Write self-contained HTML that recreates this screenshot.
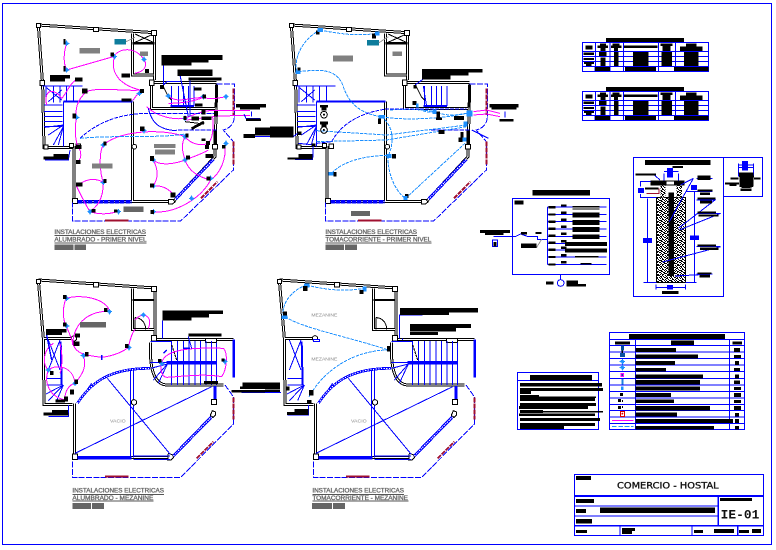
<!DOCTYPE html>
<html><head><meta charset="utf-8"><title>IE-01</title>
<style>html,body{margin:0;padding:0;background:#fff}svg{display:block}text{font-family:"Liberation Sans",sans-serif}.lb{fill:#6a6a6a;stroke:#6a6a6a;stroke-width:1}</style></head>
<body>
<svg xmlns="http://www.w3.org/2000/svg" width="776" height="550" viewBox="0 0 776 550" shape-rendering="crispEdges">
<defs>
<pattern id="conc" width="30" height="30" patternUnits="userSpaceOnUse">
<rect width="30" height="30" fill="#fff"/>
<path fill="#000" d="M0,0h6v3h-6zM12,0h3v3h-3zM18,0h3v3h-3zM27,0h3v3h-3zM3,3h6v3h-6zM15,3h3v3h-3zM21,3h6v3h-6zM0,6h3v3h-3zM9,6h6v3h-6zM21,6h3v3h-3zM27,6h3v3h-3zM3,9h3v3h-3zM12,9h9v3h-9zM0,12h3v3h-3zM6,12h6v3h-6zM21,12h6v3h-6zM6,15h3v3h-3zM15,15h3v3h-3zM21,15h9v3h-9zM0,18h6v3h-6zM9,18h3v3h-3zM18,18h3v3h-3zM3,21h3v3h-3zM12,21h6v3h-6zM21,21h3v3h-3zM27,21h3v3h-3zM0,24h3v3h-3zM6,24h3v3h-3zM18,24h6v3h-6zM6,27h6v3h-6zM15,27h3v3h-3zM24,27h3v3h-3z"/>
</pattern>
<g id="mk"><circle r="4" fill="none" stroke="#1e90ff" stroke-width="3"/><path d="M-8,0H8M0,-8V8" stroke="#1e90ff" stroke-width="3"/></g>
<g id="wall1" fill="none">
 <g stroke="#000" stroke-width="9">
  <path d="M55,45L403,68V210"/><path d="M55,45L68,225L72,412H160"/><path d="M162,408V575H460L585,440L590,225"/>
  <path d="M395,218H590"/><path d="M395,215V295H585"/><path d="M337,70V195H400"/><path d="M337,275V575"/>
 </g>
 <g stroke="#fff" stroke-width="3">
  <path d="M55,45L403,68V210"/><path d="M55,45L68,225L72,412H160"/><path d="M162,408V575H460L585,440L590,225"/>
  <path d="M395,218H590"/><path d="M395,215V295H585"/><path d="M337,70V195H400"/><path d="M337,275V575"/>
 </g>
 <path d="M337,100H403" stroke="#000" stroke-width="8"/>
 <path d="M345,72L400,97M400,72L345,97" stroke="#000" stroke-width="3"/>
 <g fill="#fff" stroke="#000" stroke-width="3"><rect x="50" y="41" width="12" height="12"/><rect x="220" y="52" width="16" height="12"/><rect x="395" y="62" width="14" height="14"/><rect x="60" y="212" width="14" height="14"/><rect x="388" y="210" width="14" height="16"/><rect x="72" y="405" width="12" height="12"/><rect x="157" y="565" width="15" height="15"/><circle cx="343" cy="410" r="7"/><rect x="148" y="400" width="12" height="12"/><rect x="168" y="402" width="14" height="14"/><rect x="578" y="403" width="14" height="14"/><path d="M445,568h14l6,8l-8,6h-12z"/></g>
 <rect x="586" y="222" width="6" height="70" fill="#000"/><rect x="581" y="362" width="8" height="40" fill="#000"/>
 <g stroke="#00f" stroke-width="3">
  <path d="M68,228H188M130,275V410M72,285H128"/>
  <path d="M78,228V278M100,228V278M120,228V278M140,228V275M160,228V275" />
  <path d="M72,304H128M72,320H128M72,335H128M72,350H128M130,345L85,375M130,350L100,405M130,345L75,352M130,350L115,405"/>
  <path d="M78,232L125,270M125,240L85,275"/>
  <path d="M455,228V288M475,228V288M490,228V288M506,228V288M522,228V288"/>
  <path d="M430,230L445,260L455,270" stroke="#000"/>
 </g>
 <path d="M130,275H337" stroke="#00f" stroke-width="6"/><path d="M452,288H522" stroke="#00f" stroke-width="6"/>
 <path d="M172,575H335" stroke="#00f" stroke-width="11" stroke-dasharray="14 2"/>
 <path d="M466,568L580,448" stroke="#00f" stroke-width="9"/><path d="M466,568L580,448" stroke="#fff" stroke-width="3" stroke-dasharray="4 3"/>
 <path d="M590,222H643V320C643,340 630,355 610,360L640,395V480L482,633H157V577" stroke="#00f" stroke-width="3" stroke-dasharray="18 4"/>
 <path d="M590,360H470" stroke="#00f" stroke-width="3" stroke-dasharray="14 3"/>
 <g stroke="#a01030" stroke-width="6"><path d="M640,236V315" stroke-dasharray="15 3"/><path d="M640,395V465" stroke-dasharray="15 3"/><path d="M543,565L592,515" stroke-dasharray="14 3"/><path d="M255,632H326" stroke-width="6"/></g>
</g>
<g id="wall2" fill="none">
 <g stroke="#000" stroke-width="9">
  <path d="M55,30L405,54V205"/><path d="M55,30L70,205L72,403H157"/><path d="M163,400V562H450"/><path d="M337,55V178H402"/><path d="M70,205H165"/><path d="M402,208H640"/>
  <path d="M392,218C388,290 400,343 440,345H610"/>
 </g>
 <g stroke="#fff" stroke-width="3">
  <path d="M55,30L405,54V205"/><path d="M55,30L70,205L72,403H157"/><path d="M163,400V562H450"/><path d="M337,55V178H402"/><path d="M70,205H165"/><path d="M402,208H640"/>
  <path d="M392,218C388,290 400,343 440,345H610"/>
 </g>
 <path d="M337,90H402" stroke="#000" stroke-width="7"/>
 <path d="M345,143C365,143 377,160 377,178M345,143V178" stroke="#000" stroke-width="3"/>
 <g fill="#fff" stroke="#000" stroke-width="3"><rect x="50" y="28" width="12" height="12"/><rect x="220" y="38" width="16" height="13"/><rect x="395" y="50" width="14" height="14"/><rect x="395" y="197" width="14" height="16"/><rect x="557" y="205" width="32" height="12"/><circle cx="162" cy="205" r="8"/><rect x="157" y="552" width="16" height="16"/><path d="M445,550l12,4l4,8l-8,8h-10z"/></g>
 <g stroke="#00f" stroke-width="3">
  <path d="M455,213V345M472,213V345M490,213V345M507,213V345M525,213V345M542,213V345M558,213V345M575,213V345M590,217V345"/>
  <path d="M85,210L120,300M120,210L85,300M80,325H125M80,345H125M130,345L85,392M130,345L78,372M130,345L110,392"/>
  <path d="M442,282L400,330M442,282L415,340M442,282L392,295"/>
  <path d="M165,550L575,350M262,325L450,552M332,295V562M341,295V562M172,400L215,340"/>
  <path d="M340,558H450M340,568H450"/>
  <path d="M392,278H440M392,215H455"/>
  <path d="M455,225L470,270" stroke="#000" stroke-dasharray="8 2"/>
 </g>
 <path d="M440,278H590" stroke="#00f" stroke-width="11"/>
 <path d="M122,215L125,345" stroke="#00f" stroke-width="6"/>
 <path d="M641,208V322" stroke="#00f" stroke-width="7"/><path d="M172,400C215,335 270,295 390,295" stroke="#00f" stroke-width="8"/>
 <path d="M172,400C215,335 270,295 390,295" stroke="#fff" stroke-width="3" stroke-dasharray="4 4"/>
 <path d="M172,563H335" stroke="#00f" stroke-width="11"/>
 <path d="M585,348V390" stroke="#00f" stroke-width="9"/>
 <path d="M460,558L578,437" stroke="#00f" stroke-width="9"/><path d="M460,558L578,437" stroke="#fff" stroke-width="3" stroke-dasharray="4 3"/>
 <g fill="#fff" stroke="#000" stroke-width="3"><circle cx="342" cy="397" r="8"/><rect x="574" y="388" width="16" height="16"/><path d="M577,422l10,4v8l-8,8l-8,-6z"/></g>
 <path d="M615,345L640,380V462L482,622H157V572" stroke="#00f" stroke-width="3" stroke-dasharray="18 4"/>
 <g stroke="#a01030" stroke-width="6"><path d="M640,382V448" stroke-dasharray="15 3"/><path d="M530,565L580,515" stroke-dasharray="14 3"/><path d="M255,619H326" stroke-width="6"/></g>
</g>
</defs>

<rect width="776" height="550" fill="#fff"/>
<path d="M2.5,545V3.5H771.5V544.5H2.5" fill="none" stroke="#00f" stroke-width="1"/>

<!-- PLAN A -->
<g transform="translate(20,10) scale(.33333)">
<use href="#wall1"/>
<g fill="none" stroke="#ff00ff" stroke-width="3">
 <path d="M140,100C130,130 130,160 140,180L280,140C300,112 345,110 372,148C385,170 370,185 345,190"/>
 <path d="M283,140C270,190 300,225 360,240C330,245 230,230 200,245C170,270 165,300 170,320C160,370 170,410 180,420C186,440 180,450 170,458"/>
 <path d="M358,245L338,272"/>
 <path d="M250,405C300,360 430,355 495,380M250,405C235,430 240,490 250,517C220,500 190,510 170,530C185,560 200,590 210,605C230,590 250,570 250,517M210,605C240,615 270,612 290,605"/>
 <path d="M400,605C460,612 540,570 572,510C600,490 620,450 615,400"/>
 <path d="M400,450C420,470 470,460 495,450C520,440 550,430 565,420M400,450C420,490 410,510 400,528C430,525 450,540 460,555M495,450C505,480 530,500 572,510M495,380C480,410 490,430 495,450M495,380C510,400 540,410 565,400C582,380 580,340 578,320"/>
 <path d="M380,290C410,320 460,330 495,325C530,310 560,298 595,302L690,302M500,330L595,318L690,316"/>
 <path d="M445,258C470,280 500,265 550,262C575,270 590,265 618,260M445,280C480,280 520,275 550,262"/>
 <path d="M80,285C70,240 100,230 125,265C140,250 150,220 165,212"/>
</g>
<g fill="none" stroke="#00f" stroke-width="3">
 <path d="M385,295C395,340 420,360 470,362"/><path d="M180,385C240,330 310,310 390,310" stroke-dasharray="12 3"/><path d="M390,310H590" stroke-dasharray="14 3"/>
 <path d="M150,420L145,450H75"/><path d="M430,165V225M430,225L440,215H480M480,195L505,320M510,210V320"/><path d="M678,325H720M695,305V320M672,312L680,330"/>
 <path d="M700,380H780M648,290H700"/>
</g>
<path d="M180,385C280,375 420,385 495,372" fill="none" stroke="#1e90ff" stroke-width="3" stroke-dasharray="12 3"/>
<path d="M495,335L552,342M515,358L552,335" stroke="#000" stroke-width="3" fill="none"/>
<path d="M515,356L552,336" stroke="#000" stroke-width="8"/>
<g>
<use href="#mk" x="140" y="100"/><use href="#mk" x="140" y="180"/><use href="#mk" x="283" y="140"/><use href="#mk" x="372" y="148"/><use href="#mk" x="170" y="322"/><use href="#mk" x="358" y="250"/><use href="#mk" x="372" y="362"/><use href="#mk" x="250" y="405"/><use href="#mk" x="495" y="380"/><use href="#mk" x="495" y="325"/><use href="#mk" x="400" y="450"/><use href="#mk" x="495" y="450"/><use href="#mk" x="400" y="528"/><use href="#mk" x="250" y="517"/><use href="#mk" x="210" y="605"/><use href="#mk" x="295" y="605"/><use href="#mk" x="400" y="605"/><use href="#mk" x="515" y="565"/><use href="#mk" x="572" y="505"/><use href="#mk" x="618" y="400"/><use href="#mk" x="550" y="260"/><use href="#mk" x="618" y="260"/><use href="#mk" x="445" y="258"/>
</g>
<g fill="#000">
<rect x="130" y="87" width="6" height="16"/><rect x="130" y="168" width="6" height="16"/><rect x="272" y="128" width="10" height="12"/><rect x="305" y="190" width="25" height="12"/><rect x="375" y="177" width="12" height="12"/><rect x="90" y="195" width="60" height="10"/><rect x="90" y="205" width="45" height="10"/><rect x="165" y="202" width="22" height="13"/><rect x="186" y="235" width="16" height="15"/><rect x="360" y="237" width="12" height="12"/><rect x="305" y="265" width="30" height="10"/><rect x="158" y="310" width="10" height="15"/><rect x="170" y="405" width="15" height="12"/><rect x="360" y="350" width="13" height="13"/><rect x="250" y="395" width="10" height="12"/><rect x="390" y="438" width="12" height="15"/><rect x="498" y="437" width="12" height="12"/><rect x="390" y="520" width="12" height="12"/><rect x="452" y="548" width="14" height="14"/><rect x="250" y="507" width="10" height="12"/><rect x="168" y="518" width="20" height="12"/><rect x="168" y="450" width="14" height="12"/><rect x="215" y="597" width="12" height="10"/><rect x="282" y="598" width="10" height="10"/><rect x="392" y="600" width="10" height="12"/><rect x="560" y="500" width="12" height="12"/><rect x="606" y="405" width="10" height="10"/><rect x="557" y="432" width="22" height="12"/><rect x="555" y="405" width="12" height="12"/><rect x="558" y="393" width="12" height="12"/><rect x="545" y="385" width="12" height="8"/><rect x="490" y="318" width="10" height="12"/><rect x="515" y="320" width="22" height="12"/><rect x="545" y="320" width="30" height="10"/><rect x="545" y="298" width="12" height="15"/><rect x="582" y="303" width="12" height="16"/><rect x="496" y="370" width="10" height="12"/><rect x="522" y="232" width="22" height="10"/><rect x="525" y="280" width="22" height="10"/><rect x="548" y="254" width="10" height="12"/><rect x="420" y="225" width="12" height="12"/><rect x="425" y="135" width="183" height="15"/><rect x="425" y="150" width="140" height="8"/><rect x="425" y="158" width="90" height="8"/><rect x="472" y="178" width="105" height="12"/><rect x="472" y="190" width="105" height="8"/><rect x="505" y="202" width="100" height="10"/><rect x="648" y="282" width="90" height="10"/><rect x="660" y="292" width="60" height="6"/><rect x="678" y="325" width="45" height="8"/><rect x="705" y="352" width="75" height="25"/><rect x="670" y="372" width="35" height="12"/><rect x="70" y="440" width="75" height="9"/><rect x="100" y="432" width="45" height="8"/>
</g>
<rect x="283" y="87" width="35" height="16" fill="#0e7c9c"/><path d="M318,95L345,82" stroke="#999" stroke-width="3"/>
<g fill="#808080"><rect x="178" y="114" width="62" height="16"/><rect x="360" y="125" width="24" height="13"/><rect x="402" y="402" width="65" height="12"/><rect x="405" y="418" width="60" height="15"/><rect x="216" y="460" width="62" height="15"/></g>
<rect x="310" y="590" width="60" height="16" fill="#666"/>
<text class="lb" x="103" y="672" font-size="18" textLength="275" lengthAdjust="spacingAndGlyphs">INSTALACIONES ELECTRICAS</text>
<text class="lb" x="103" y="695" font-size="18" textLength="277" lengthAdjust="spacingAndGlyphs">ALUMBRADO - PRIMER NIVEL</text>
<path d="M103,677H378M103,699H380" stroke="#555" stroke-width="3"/>
<rect x="103" y="703" width="57" height="17" fill="#666"/><rect x="163" y="703" width="35" height="17" fill="#666"/>
</g>

<!-- PLAN B -->
<g transform="translate(270,10) scale(.33333)">
<use href="#wall1" x="9"/>
<g fill="none" stroke="#1e90ff" stroke-width="3" stroke-dasharray="10 3">
 <path d="M150,60C110,80 70,130 80,185M150,60C200,70 260,80 320,70"/>
 <path d="M85,185C140,180 200,170 220,230C240,290 280,310 330,320"/>
 <path d="M335,320C380,330 500,330 590,310M335,320C360,340 380,380 355,437"/>
 <path d="M140,362L350,375L590,345M140,395L350,390L590,350"/>
 <path d="M185,490C220,450 300,435 355,437M355,437C350,490 380,550 407,565L585,400"/>
 <path d="M360,300C420,295 460,300 495,305C530,320 560,315 590,310M440,285C445,300 470,310 495,305"/>
</g>
<g fill="none" stroke="#00f" stroke-width="3">
 <path d="M70,380L85,368M85,400L135,405M130,405L128,448H75"/>
 <path d="M140,400L185,395C220,330 290,305 350,297H590" stroke-dasharray="12 3"/>
 <path d="M605,360L655,385"/><path d="M435,225L460,207H540M460,228L470,290"/><path d="M688,330H730M705,305V322"/>
</g>
<path d="M610,305L650,300L690,310M610,315L650,312L690,320" fill="none" stroke="#ff00ff" stroke-width="3"/>
<g fill="#000">
<rect x="138" y="62" width="10" height="12"/><rect x="306" y="70" width="12" height="16"/><rect x="82" y="172" width="10" height="16"/><rect x="456" y="177" width="182" height="10"/><rect x="456" y="187" width="140" height="10"/><rect x="456" y="197" width="86" height="12"/><rect x="430" y="225" width="10" height="10"/><rect x="427" y="273" width="12" height="12"/><rect x="150" y="285" width="24" height="8"/><rect x="155" y="293" width="14" height="8"/><rect x="150" y="335" width="24" height="8"/><rect x="155" y="343" width="14" height="8"/><rect x="324" y="326" width="9" height="16"/><rect x="500" y="305" width="10" height="22"/><rect x="498" y="322" width="18" height="8"/><rect x="552" y="318" width="30" height="12"/><rect x="506" y="360" width="18" height="12"/><rect x="572" y="366" width="8" height="16"/><rect x="565" y="382" width="12" height="14"/><rect x="82" y="365" width="12" height="10"/><rect x="0" y="350" width="70" height="33"/><rect x="85" y="432" width="42" height="14"/><rect x="52" y="442" width="75" height="7"/><rect x="366" y="432" width="12" height="14"/><rect x="190" y="486" width="10" height="14"/><rect x="405" y="552" width="10" height="12"/><rect x="125" y="400" width="12" height="8"/><rect x="658" y="282" width="88" height="10"/><rect x="665" y="292" width="75" height="7"/><rect x="688" y="327" width="43" height="7"/>
</g>
<g fill="#1e90ff"><rect x="143" y="54" width="16" height="12"/><rect x="315" y="65" width="14" height="12"/><rect x="76" y="182" width="16" height="10"/><rect x="325" y="315" width="20" height="10"/><rect x="350" y="432" width="14" height="12"/><rect x="175" y="486" width="15" height="10"/><rect x="400" y="558" width="12" height="12"/><rect x="488" y="298" width="12" height="14"/><rect x="590" y="302" width="18" height="18"/><rect x="580" y="335" width="12" height="14"/><rect x="578" y="382" width="12" height="12"/><rect x="438" y="280" width="8" height="12"/></g>
<g fill="none" stroke="#000" stroke-width="3"><circle cx="162" cy="314" r="10"/><circle cx="162" cy="360" r="10"/></g><circle cx="162" cy="314" r="3"/><circle cx="162" cy="360" r="3"/>
<rect x="291" y="90" width="36" height="17" fill="#0e7c9c"/><path d="M327,98L355,80" stroke="#999" stroke-width="3"/>
<rect x="189" y="137" width="60" height="18" fill="#808080"/><rect x="368" y="125" width="28" height="13" fill="#808080"/><rect x="243" y="603" width="57" height="15" fill="#666"/>
<text class="lb" x="166" y="672" font-size="18" textLength="275" lengthAdjust="spacingAndGlyphs">INSTALACIONES ELECTRICAS</text>
<text class="lb" x="166" y="695" font-size="18" textLength="318" lengthAdjust="spacingAndGlyphs">TOMACORRIENTE - PRIMER NIVEL</text>
<path d="M166,677H441M166,699H485" stroke="#555" stroke-width="3"/>
<rect x="166" y="703" width="56" height="17" fill="#666"/><rect x="225" y="703" width="36" height="17" fill="#666"/>
</g>

<!-- PLAN C -->
<g transform="translate(20,270) scale(.33333)">
<use href="#wall2"/>
<g fill="none" stroke="#ff00ff" stroke-width="3">
 <path d="M138,85C125,120 130,150 138,168C150,190 155,210 160,225C170,250 190,255 245,262C280,258 310,245 325,232C330,210 335,190 345,178"/>
 <path d="M138,85C190,70 265,90 268,125C220,120 160,150 158,225"/>
 <path d="M345,150C370,120 400,140 385,175"/><path d="M190,255C200,290 190,310 165,340C145,345 135,365 135,385"/>
 <path d="M85,300C110,280 160,290 165,340M85,300C70,340 90,380 135,390M85,300C65,280 70,240 100,220M120,220C130,260 125,300 120,310"/>
 <path d="M425,280C430,250 470,230 610,235C625,250 620,300 605,320C550,310 480,320 440,322C425,320 420,300 425,280"/>
</g>
<path d="M80,195L95,270M430,250L440,240M490,235H510M245,255V270" stroke="#00f" stroke-width="4"/>
<path d="M427,152V205M427,150H515M505,200L515,235M85,440H145V405M665,368H780" fill="none" stroke="#00f" stroke-width="3"/>
<g>
<use href="#mk" x="140" y="85"/><use href="#mk" x="140" y="168"/><use href="#mk" x="268" y="125"/><use href="#mk" x="370" y="135"/><use href="#mk" x="327" y="233"/><use href="#mk" x="190" y="257"/><use href="#mk" x="85" y="300"/><use href="#mk" x="165" y="340"/><use href="#mk" x="425" y="280"/><use href="#mk" x="615" y="275"/>
</g>
<g fill="#000">
<rect x="129" y="75" width="10" height="12"/><rect x="129" y="157" width="10" height="12"/><rect x="252" y="114" width="10" height="12"/><rect x="78" y="177" width="62" height="10"/><rect x="78" y="187" width="48" height="8"/><rect x="165" y="190" width="15" height="12"/><rect x="160" y="215" width="18" height="13"/><rect x="195" y="246" width="10" height="14"/><rect x="315" y="222" width="10" height="12"/><rect x="427" y="122" width="182" height="10"/><rect x="427" y="132" width="140" height="10"/><rect x="427" y="142" width="88" height="9"/><rect x="505" y="190" width="100" height="10"/><rect x="414" y="267" width="10" height="10"/><rect x="604" y="265" width="10" height="10"/><rect x="552" y="333" width="42" height="11"/><rect x="90" y="303" width="10" height="12"/><rect x="164" y="328" width="10" height="14"/><rect x="150" y="358" width="12" height="16"/><rect x="132" y="380" width="12" height="14"/><rect x="107" y="388" width="28" height="10"/><rect x="96" y="420" width="48" height="14"/><rect x="70" y="428" width="75" height="9"/><rect x="668" y="337" width="112" height="13"/><rect x="660" y="350" width="120" height="7"/><rect x="635" y="360" width="145" height="8"/>
</g>
<rect x="180" y="156" width="78" height="16" fill="#666"/>
<text x="270" y="458" font-size="15" fill="#888" textLength="47" lengthAdjust="spacingAndGlyphs">VACIO</text>
<text class="lb" x="157" y="668" font-size="18" textLength="275" lengthAdjust="spacingAndGlyphs">INSTALACIONES ELECTRICAS</text>
<text class="lb" x="157" y="690" font-size="18" textLength="243" lengthAdjust="spacingAndGlyphs">ALUMBRADO - MEZANINE</text>
<path d="M157,673H432M157,693H400" stroke="#555" stroke-width="3"/>
<rect x="157" y="699" width="56" height="18" fill="#666"/><rect x="216" y="699" width="36" height="18" fill="#666"/>
</g>

<!-- PLAN D -->
<g transform="translate(265,270) scale(.33333)">
<use href="#wall2" x="-12"/>
<rect x="145" y="209" width="18" height="5" fill="#fff" stroke="#00f" stroke-width="3"/>
<g fill="none" stroke="#1e90ff" stroke-width="3" stroke-dasharray="10 3">
 <path d="M125,45C80,60 50,100 55,135C90,170 250,200 370,240C290,240 190,280 132,380"/>
 <path d="M125,45C180,60 240,65 298,55"/>
</g>
<g fill="#1e90ff"><rect x="117" y="40" width="16" height="12"/><rect x="292" y="50" width="12" height="14"/><rect x="50" y="136" width="18" height="11"/></g>
<path d="M403,205V135H472M413,205V210M0,367H48M68,435H130V405" fill="none" stroke="#00f" stroke-width="3"/>
<g fill="#000">
<rect x="114" y="48" width="13" height="15"/><rect x="284" y="60" width="12" height="12"/><rect x="54" y="125" width="12" height="12"/><rect x="366" y="228" width="12" height="16"/><rect x="405" y="114" width="234" height="13"/><rect x="405" y="127" width="147" height="8"/><rect x="435" y="162" width="183" height="12"/><rect x="435" y="174" width="138" height="10"/><rect x="435" y="186" width="84" height="9"/><rect x="0" y="337" width="45" height="22"/><rect x="62" y="350" width="12" height="12"/><rect x="132" y="360" width="14" height="16"/><rect x="126" y="390" width="14" height="12"/><rect x="88" y="417" width="42" height="12"/><rect x="66" y="426" width="64" height="9"/>
</g>
<text x="139" y="140" font-size="15" fill="#888" textLength="78" lengthAdjust="spacingAndGlyphs">MEZANINE</text>
<text x="139" y="272" font-size="15" fill="#888" textLength="78" lengthAdjust="spacingAndGlyphs">MEZANINE</text>
<text x="258" y="458" font-size="15" fill="#888" textLength="47" lengthAdjust="spacingAndGlyphs">VACIO</text>
<text class="lb" x="142" y="668" font-size="18" textLength="275" lengthAdjust="spacingAndGlyphs">INSTALACIONES ELECTRICAS</text>
<text class="lb" x="142" y="690" font-size="18" textLength="287" lengthAdjust="spacingAndGlyphs">TOMACORRIENTE - MEZANINE</text>
<path d="M142,673H417M142,693H430" stroke="#555" stroke-width="3"/>
<rect x="141" y="699" width="60" height="18" fill="#666"/><rect x="204" y="699" width="36" height="18" fill="#666"/>
</g>

<!-- RIGHT PANELS -->
<g transform="translate(480,30) scale(.33333)">
<g id="tab">
<rect x="378" y="24" width="234" height="12" fill="#000"/>
<g fill="none" stroke="#00f" stroke-width="3"><rect x="307" y="38" width="378" height="86"/><path d="M307,64H685M307,80H685M307,94H685M307,109H685M347,38V109M390,38V124M430,38V124M535,38V124M587,38V124M345,109V124"/></g>
<g fill="#000">
<rect x="317" y="47" width="20" height="11"/><rect x="360" y="40" width="18" height="8"/><rect x="352" y="47" width="32" height="7"/><rect x="362" y="54" width="15" height="9"/><rect x="397" y="40" width="22" height="8"/><rect x="393" y="47" width="32" height="7"/><rect x="402" y="54" width="12" height="9"/><rect x="432" y="47" width="100" height="7"/><rect x="542" y="40" width="36" height="8"/><rect x="548" y="48" width="24" height="15"/><rect x="618" y="40" width="32" height="10"/><rect x="600" y="50" width="68" height="13"/>
<rect x="310" y="68" width="32" height="7"/><rect x="310" y="84" width="32" height="6"/><rect x="312" y="96" width="30" height="6"/><rect x="318" y="102" width="16" height="6"/>
<rect x="357" y="66" width="22" height="12"/><rect x="362" y="82" width="14" height="26"/><rect x="402" y="66" width="14" height="42"/><rect x="459" y="66" width="46" height="42"/><rect x="544" y="66" width="32" height="42"/><rect x="612" y="66" width="44" height="42"/>
<rect x="345" y="111" width="45" height="12"/><rect x="435" y="111" width="93" height="12"/><rect x="582" y="111" width="103" height="12"/>
</g>
</g>
<use href="#tab" y="147"/>

<!-- panel diagram -->
<g fill="none" stroke="#00f" stroke-width="3">
<rect x="97" y="505" width="291" height="228"/>
<path d="M40,620H105L122,612L145,620H172V628H190H202M202,531V703"/>
<path d="M202,531H380M202,553H380M202,575H380M202,597H380M202,619H380M202,640H380M202,660H380M202,681H380M202,703H380"/>
<path d="M242,733V750"/><circle cx="242" cy="759" r="10"/>
<rect x="38" y="630" width="14" height="20"/>
</g>
<path d="M145,652L170,652L185,628" fill="none" stroke="#999" stroke-width="3"/>
<g fill="#000">
<rect x="157" y="480" width="173" height="17"/><rect x="103" y="511" width="28" height="13"/><rect x="0" y="600" width="90" height="9"/><rect x="15" y="609" width="55" height="6"/><rect x="40" y="636" width="10" height="14"/><rect x="123" y="606" width="18" height="7"/><rect x="167" y="606" width="18" height="6"/><rect x="123" y="640" width="46" height="14"/>
<rect x="206" y="528" width="20" height="7"/><rect x="243" y="523" width="17" height="7"/><rect x="278" y="528" width="80" height="4"/><rect x="278" y="536" width="80" height="3"/>
<rect x="206" y="550" width="20" height="7"/><rect x="243" y="545" width="17" height="7"/><rect x="278" y="548" width="80" height="15"/>
<rect x="206" y="572" width="20" height="7"/><rect x="243" y="566" width="17" height="7"/><rect x="278" y="570" width="80" height="15"/>
<rect x="206" y="593" width="20" height="7"/><rect x="243" y="587" width="17" height="7"/><rect x="278" y="591" width="80" height="15"/>
<rect x="206" y="614" width="20" height="7"/><rect x="243" y="608" width="17" height="7"/><rect x="278" y="614" width="80" height="13"/>
<rect x="206" y="635" width="20" height="7"/><rect x="243" y="630" width="17" height="7"/><rect x="255" y="636" width="126" height="12"/>
<rect x="206" y="656" width="20" height="7"/><rect x="243" y="650" width="17" height="7"/><rect x="255" y="656" width="126" height="12"/>
<rect x="206" y="678" width="20" height="6"/><rect x="243" y="672" width="17" height="7"/><rect x="285" y="678" width="70" height="5"/>
<rect x="206" y="700" width="20" height="6"/><rect x="243" y="693" width="17" height="7"/><rect x="302" y="699" width="32" height="4"/>
<rect x="198" y="755" width="22" height="9"/><rect x="260" y="752" width="34" height="10"/><rect x="260" y="762" width="58" height="8"/>
</g>

<!-- pile -->
<g fill="none" stroke="#00f" stroke-width="3"><rect x="460" y="382" width="270" height="417"/><rect x="730" y="382" width="117" height="117"/></g>
<rect x="530" y="502" width="87" height="255" fill="url(#conc)" stroke="#000" stroke-width="3"/>
<rect x="541" y="462" width="16" height="40" fill="url(#conc)"/><rect x="590" y="462" width="16" height="40" fill="url(#conc)"/>
<rect x="565" y="488" width="17" height="250" fill="#000"/>
<rect x="512" y="452" width="102" height="14" fill="#000"/><rect x="560" y="455" width="22" height="8" fill="#fff"/>
<rect x="495" y="390" width="197" height="15" fill="#000"/>
<g fill="#00f"><rect x="561" y="414" width="18" height="28"/><rect x="474" y="474" width="18" height="15"/><rect x="633" y="465" width="18" height="15"/><rect x="489" y="624" width="27" height="15"/><rect x="630" y="617" width="27" height="13"/><rect x="561" y="765" width="18" height="14"/><rect x="786" y="393" width="18" height="28"/></g>
<g fill="none" stroke="#00f" stroke-width="3">
<path d="M480,454H512M480,502H530M482,454V470M482,492V502M503,505V757M490,757H530M617,757H650M643,485V757M617,485H668M528,763V778M617,763V778M528,772H617M552,430V452M595,430V452M552,424H595"/>
<path d="M540,450L520,432H466M640,445L568,575M650,445H698M650,485H698M650,510H705L595,595M650,550H722L598,600M650,650H722L548,696M650,732H698L585,738M640,445L602,465"/>
<path d="M775,400V440M820,400V440M775,405H820M775,412H820"/>
</g>
<path d="M500,490H537V475" fill="none" stroke="#a01030" stroke-width="3"/>
<g fill="#000">
<rect x="577" y="408" width="32" height="6"/><rect x="466" y="430" width="62" height="7"/><rect x="652" y="436" width="40" height="6"/><rect x="652" y="443" width="40" height="7"/><rect x="652" y="478" width="46" height="6"/><rect x="660" y="487" width="30" height="8"/><rect x="652" y="502" width="54" height="7"/><rect x="660" y="512" width="36" height="9"/><rect x="652" y="544" width="56" height="7"/><rect x="655" y="553" width="60" height="7"/><rect x="652" y="643" width="56" height="7"/><rect x="660" y="652" width="56" height="8"/><rect x="652" y="727" width="42" height="5"/><rect x="658" y="734" width="32" height="9"/><rect x="546" y="783" width="50" height="9"/><rect x="495" y="472" width="40" height="6"/>
<path d="M776,428h44l2,14h-44zM778,440h42v30l-10,4h-22l-10,-4z"/><rect x="752" y="442" width="24" height="7"/><rect x="822" y="442" width="20" height="7"/><rect x="735" y="457" width="42" height="6"/><rect x="748" y="463" width="22" height="5"/><rect x="782" y="475" width="32" height="8"/>
</g>
</g>

<!-- LEGEND -->
<g transform="translate(510,325) scale(.33333)">
<g fill="none" stroke="#00f" stroke-width="3">
<rect x="298" y="22" width="405" height="292"/>
<path d="M298,43H703M298,61H703M298,81H703M298,101H703M298,120H703M298,140H703M298,160H703M298,180H703M298,199H703M298,219H703M298,238H703M298,256H703M298,276H703M298,296H703M377,43V314M658,43V314"/>
<rect x="22" y="142" width="244" height="172"/><path d="M22,166H266"/>
<rect x="193" y="449" width="567" height="182"/><path d="M193,513H760" stroke-width="5"/><path d="M193,543H623M193,573H623" stroke-width="4"/><path d="M193,602H760" stroke-width="5"/><path d="M625,513V602M330,602V631M546,602V631M683,602V631" stroke-width="4"/>
</g>
<g fill="#000">
<rect x="357" y="27" width="288" height="15"/><rect x="315" y="50" width="45" height="9"/><rect x="483" y="47" width="69" height="13"/><rect x="668" y="50" width="28" height="9"/>
<rect x="377" y="69" width="121" height="12"/><rect x="377" y="89" width="187" height="11"/><rect x="377" y="108" width="118" height="12"/><rect x="377" y="129" width="91" height="10"/><rect x="377" y="148" width="202" height="12"/><rect x="377" y="165" width="193" height="13"/><rect x="377" y="185" width="193" height="11"/><rect x="377" y="204" width="106" height="12"/><rect x="377" y="224" width="115" height="10"/><rect x="377" y="243" width="223" height="13"/><rect x="377" y="263" width="124" height="11"/><rect x="377" y="282" width="292" height="12"/><rect x="377" y="303" width="235" height="11"/>
<rect x="672" y="69" width="18" height="12"/><rect x="672" y="90" width="21" height="9"/><rect x="675" y="108" width="12" height="12"/><rect x="672" y="129" width="18" height="9"/><rect x="675" y="148" width="12" height="12"/><rect x="672" y="166" width="18" height="11"/><rect x="672" y="186" width="21" height="9"/><rect x="672" y="204" width="21" height="12"/><rect x="672" y="225" width="21" height="9"/><rect x="672" y="243" width="21" height="12"/><rect x="675" y="264" width="12" height="10"/><rect x="675" y="282" width="12" height="12"/><rect x="675" y="303" width="12" height="10"/>
<rect x="60" y="150" width="186" height="16"/>
<rect x="30" y="174" width="246" height="10"/><rect x="30" y="189" width="249" height="9"/><rect x="30" y="198" width="33" height="9"/><rect x="30" y="210" width="57" height="5"/><rect x="30" y="214" width="228" height="5"/><rect x="30" y="219" width="225" height="9"/><rect x="30" y="234" width="228" height="9"/><rect x="27" y="243" width="207" height="9"/><rect x="30" y="255" width="69" height="9"/><rect x="99" y="258" width="180" height="4"/><rect x="27" y="266" width="228" height="7"/><rect x="30" y="279" width="240" height="9"/><rect x="30" y="294" width="225" height="9"/><rect x="30" y="303" width="132" height="9"/>
<rect x="330" y="204" width="9" height="9"/><rect x="324" y="222" width="9" height="9"/><rect x="336" y="225" width="3" height="6"/><rect x="324" y="243" width="9" height="9"/><rect x="336" y="243" width="3" height="6"/>
<rect x="198" y="453" width="45" height="12"/><rect x="198" y="522" width="54" height="12"/><rect x="198" y="552" width="30" height="12"/><rect x="270" y="548" width="345" height="16"/><rect x="198" y="582" width="48" height="13"/><rect x="630" y="519" width="96" height="9"/><rect x="198" y="615" width="33" height="9"/><rect x="336" y="609" width="39" height="9"/><rect x="336" y="618" width="30" height="9"/><rect x="552" y="615" width="27" height="9"/><rect x="612" y="612" width="60" height="12"/><rect x="687" y="615" width="30" height="9"/><rect x="726" y="612" width="27" height="12"/>
</g>
<rect x="333" y="62" width="9" height="14" fill="#004a9c"/><rect x="335" y="76" width="4" height="8" fill="#000"/><rect x="330" y="84" width="15" height="12" fill="#0a50a0"/>
<use href="#mk" x="337" y="110"/><use href="#mk" x="337" y="128"/>
<rect x="332" y="144" width="10" height="12" fill="#ff00ff"/><rect x="335" y="147" width="4" height="6" fill="#0a50a0"/>
<rect x="334" y="162" width="6" height="16" fill="#1e80e0"/><rect x="333" y="184" width="8" height="11" fill="#1e90ff"/>
<rect x="331" y="259" width="12" height="15" fill="none" stroke="#e00000" stroke-width="3"/><circle cx="337" cy="266" r="3" fill="#e00000"/>
<path d="M306,286H370" stroke="#ff00ff" stroke-width="3"/><path d="M306,304H370" stroke="#1e90ff" stroke-width="3" stroke-dasharray="14 5"/>
<text x="321" y="491" font-size="27" fill="#111" stroke="#111" stroke-width="1" textLength="305" lengthAdjust="spacingAndGlyphs" style="font-family:'DejaVu Sans','Liberation Sans',sans-serif">COMERCIO - HOSTAL</text>
<text x="632" y="580" font-size="40" fill="#111" textLength="116" lengthAdjust="spacingAndGlyphs" style="font-family:'Liberation Mono',monospace;font-weight:bold">IE-01</text>
</g>
</svg>
</body></html>
